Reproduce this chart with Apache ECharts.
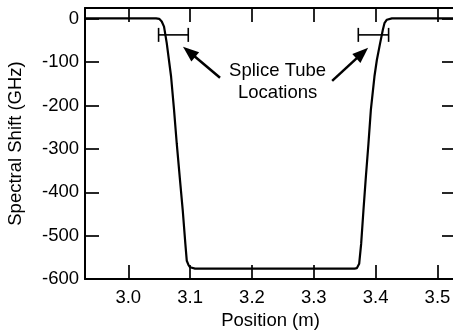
<!DOCTYPE html>
<html>
<head>
<meta charset="utf-8">
<script src="https://cdn.jsdelivr.net/npm/echarts@6.0.0/dist/echarts.min.js"></script>
<style>
  html, body { margin: 0; padding: 0; background: #fff; }
  #chart { width: 453px; height: 333px; }
</style>
</head>
<body>
<div id="chart"></div>
<script>
// position along fibre (m) and measured spectral shift (GHz)
var posX = [2.93, 3.00, 3.045, 3.050, 3.0541, 3.0578, 3.0622, 3.0692, 3.0740, 3.0784,
            3.0832, 3.0881, 3.0923, 3.0946, 3.0975, 3.1000, 3.1080, 3.20, 3.30, 3.366,
            3.3696, 3.3734, 3.3766, 3.3803, 3.3842, 3.3884, 3.3923, 3.3981, 3.4020, 3.4073,
            3.4117, 3.4143, 3.4182, 3.4263, 3.45, 3.53];
var shift = [1, 1, 1, 0, -6, -18, -56, -133, -210, -288,
             -365, -442, -519, -558, -568, -573, -576, -576, -576, -576,
             -575, -565, -519, -442, -365, -288, -210, -133, -95, -56,
             -25, -10, -2, 1, 1, 1];

// splice tube extents: start, end, level
var tubeStart = [3.049, 3.372];
var tubeEnd = [3.097, 3.421];
var tubeLevel = [-37, -37];

var xTicks = [3.0, 3.1, 3.2, 3.3, 3.4, 3.5];
var yTicks = [-600, -500, -400, -300, -200, -100, 0];

var FONT = "'Liberation Sans', Arial, sans-serif";
var FS = 18.5;

var curve = posX.map(function (x, i) { return [x, shift[i]]; });
var tubes = tubeStart.map(function (s, i) { return [s, tubeEnd[i], tubeLevel[i]]; });

var chart = echarts.init(document.getElementById('chart'), null, { renderer: 'canvas' });

function tickAxis(pos, ticks, showLabel, fmt) {
  return {
    type: 'value',
    position: pos,
    axisLine: { show: true, onZero: false, lineStyle: { color: '#000', width: 2 } },
    axisTick: { show: true, inside: true, length: 14, customValues: ticks,
                lineStyle: { color: '#000', width: 1.7 } },
    axisLabel: { show: showLabel, customValues: ticks, formatter: fmt,
                 color: '#000', fontFamily: FONT, fontSize: FS },
    splitLine: { show: false }
  };
}

var xBottom = tickAxis('bottom', xTicks, true, function (v) { return v.toFixed(1); });
xBottom.min = 2.93; xBottom.max = 3.53;
xBottom.axisLabel.margin = 9;
xBottom.name = 'Position (m)';
xBottom.nameLocation = 'middle';
xBottom.nameGap = 32;
xBottom.nameTextStyle = { color: '#000', fontFamily: FONT, fontSize: FS };

var xTop = tickAxis('top', xTicks, false);
xTop.min = 2.93; xTop.max = 3.53;

var yLeft = tickAxis('left', yTicks, true, function (v) { return String(v); });
yLeft.min = -600; yLeft.max = 25;
yLeft.axisLabel.margin = 6;
yLeft.name = 'Spectral Shift (GHz)';
yLeft.nameLocation = 'middle';
yLeft.nameGap = 60;
yLeft.nameTextStyle = { color: '#000', fontFamily: FONT, fontSize: FS };

var yRight = tickAxis('right', yTicks, false);
yRight.min = -600; yRight.max = 25;

var option = {
  animation: false,
  backgroundColor: '#fff',
  grid: { left: 85, right: -3, top: 8, bottom: 54, containLabel: false, outerBoundsMode: 'none' },
  xAxis: [xBottom, xTop],
  yAxis: [yLeft, yRight],
  series: [
    {
      type: 'line',
      data: curve,
      xAxisIndex: 0, yAxisIndex: 0,
      showSymbol: false,
      lineStyle: { color: '#000', width: 2.2 },
      markLine: {
        silent: true,
        symbol: ['none', 'triangle'],
        symbolSize: [12, 16],
        lineStyle: { color: '#000', width: 2.5, type: 'solid' },
        label: { show: false },
        data: [
          [{ coord: [3.1484, -136] }, { coord: [3.0984, -76] }],
          [{ coord: [3.3297, -143] }, { coord: [3.3784, -79] }]
        ]
      },
      markPoint: {
        silent: true,
        symbol: 'circle',
        symbolSize: 1,
        itemStyle: { color: 'rgba(0,0,0,0)' },
        label: {
          show: true, position: 'inside', color: '#000',
          fontFamily: FONT, fontSize: FS, lineHeight: 22.5, align: 'center',
          formatter: 'Splice Tube\nLocations'
        },
        data: [{ coord: [3.2415, -145] }]
      }
    },
    {
      type: 'custom',
      xAxisIndex: 0, yAxisIndex: 0,
      data: tubes,
      encode: { x: [0, 1], y: 2 },
      renderItem: function (params, api) {
        var a = api.coord([api.value(0), api.value(2)]);
        var b = api.coord([api.value(1), api.value(2)]);
        var c = 7;
        var st = { stroke: '#000', lineWidth: 1.6 };
        return {
          type: 'group',
          children: [
            { type: 'line', shape: { x1: a[0], y1: a[1], x2: b[0], y2: b[1] }, style: st },
            { type: 'line', shape: { x1: a[0], y1: a[1] - c, x2: a[0], y2: a[1] + c }, style: st },
            { type: 'line', shape: { x1: b[0], y1: b[1] - c, x2: b[0], y2: b[1] + c }, style: st }
          ]
        };
      }
    }
  ]
};

chart.setOption(option);
</script>
</body>
</html>
